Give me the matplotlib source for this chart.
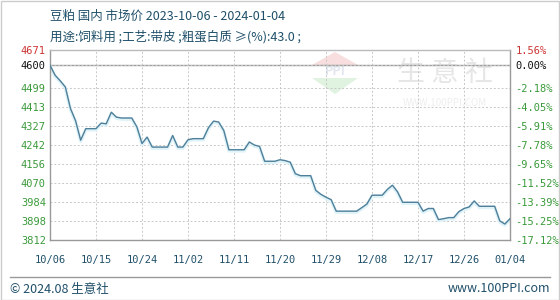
import matplotlib
matplotlib.use("Agg")
import matplotlib.pyplot as plt
from matplotlib.patches import Polygon, Rectangle
import pandas as pd

plt.rcParams['font.family'] = ['Noto Sans CJK SC', 'DejaVu Sans']

# data (daily prices, 2023-10-06 .. 2024-01-04)
start_date = "2023-10-06"
prices = [4600, 4555, 4530, 4502, 4405, 4350, 4262, 4314, 4314, 4314,
          4339, 4336, 4388, 4366, 4362, 4362, 4362, 4322, 4247, 4276,
          4231, 4231, 4231, 4231, 4283, 4231, 4231, 4264, 4269, 4269,
          4269, 4318, 4348, 4344, 4306, 4219, 4219, 4219, 4219, 4254,
          4240, 4234, 4167, 4167, 4167, 4174, 4170, 4163, 4111, 4102,
          4102, 4102, 4036, 4018, 4005, 3994, 3942, 3942, 3942, 3942,
          3942, 3958, 3974, 4014, 4014, 4014, 4040, 4059, 4029, 3982,
          3982, 3982, 3982, 3942, 3954, 3954, 3904, 3908, 3913, 3913,
          3940, 3954, 3961, 3988, 3964, 3964, 3964, 3964, 3898, 3884,
          3908]
y_ticks = [3812, 3898, 3984, 4070, 4156, 4242, 4327, 4413, 4499, 4600, 4671]
pct_labels = ["-17.12%", "-15.25%", "-13.39%", "-11.52%", "-9.65%", "-7.78%",
              "-5.91%", "-4.05%", "-2.18%", "0.00%", "1.56%"]
x_tick_labels = ["10/06", "10/15", "10/24", "11/02", "11/11", "11/20",
                 "11/29", "12/08", "12/17", "12/26", "01/04"]
title1 = "豆粕 国内 市场价 2023-10-06 - 2024-01-04"
title2 = "用途:饲料用 ;工艺:带皮 ;粗蛋白质 ≥(%):43.0 ;"

dates = pd.date_range(start_date, periods=len(prices), freq="D")
tick_dates = pd.date_range(start_date, periods=len(x_tick_labels), freq="9D")

W, H = 560, 300
fig = plt.figure(figsize=(W / 100, H / 100), dpi=100)
fig.patch.set_facecolor("white")

# outer frame
fig.add_artist(Rectangle((0.5 / W, 0.5 / H), 1 - 1.5 / W, 1 - 1.5 / H, transform=fig.transFigure,
                         fill=False, edgecolor="#cccccc", linewidth=1))

ax = fig.add_axes([50 / W, 1 - 240 / H, 460 / W, (240 - 49.5) / H])
ax.set_facecolor("white")

# watermark logo + text (pixel coords of the picture -> axes fraction)
def px(x, y):
    return ((x - 50) / 460, (240 - y) / (240 - 49.5))

ax.add_patch(Polygon([px(312, 65), px(335, 52), px(358, 65)], closed=True,
                     transform=ax.transAxes, facecolor="#f8dede", edgecolor="none", zorder=0))
ax.add_patch(Polygon([px(312, 78), px(358, 78), px(335, 94)], closed=True,
                     transform=ax.transAxes, facecolor="#e0f2e0", edgecolor="none", zorder=0))
ax.text(*px(335, 71.5), "PPI", transform=ax.transAxes, ha="center", va="center",
        fontsize=9, color="#e2e7ef", fontweight="bold", zorder=0)
ax.text(*px(445, 73), "生 意 社", transform=ax.transAxes, ha="center", va="center",
        fontsize=20, color="#e6e6e6", zorder=0)
ax.text(*px(445, 103), "WWW.100PPI.COM", transform=ax.transAxes, ha="center", va="center",
        fontsize=7, color="#eeeeee", zorder=0)

ax.set_xlim(dates[0], dates[-1])
ax.set_ylim(y_ticks[0], y_ticks[-1])

ax.grid(True, color="#c8c8c8", linestyle=(0, (2, 2)), linewidth=0.7)
ax.axhline(prices[0], color="#9a9a9a", linewidth=1, zorder=1)

# faint glow beneath line
ax.plot(dates, [p - 5 for p in prices], color="#dff3f9", linewidth=2.5, zorder=2,
        solid_joinstyle="round")
ax.plot(dates, prices, color="#4f7f99", linewidth=1, zorder=3)

ax.set_xticks(tick_dates)
ax.set_xticklabels(x_tick_labels)
ax.set_yticks(y_ticks)
ax.set_yticklabels([str(v) for v in y_ticks])
ax.tick_params(axis="both", length=0, labelsize=7.5)
ax.tick_params(axis="x", pad=11, labelcolor="#1f4f6a")
ax.tick_params(axis="y", pad=21)
for lab in ax.get_xticklabels() + ax.get_yticklabels():
    lab.set_family("DejaVu Sans Mono")
for lab in ax.get_yticklabels():
    lab.set_horizontalalignment("left")
    lab.set_color("#3a9a3a")
ax.get_yticklabels()[-1].set_color("#cc3333")
ax.get_yticklabels()[-2].set_color("#111111")
for s in ax.spines.values():
    s.set_color("#999999")
    s.set_linewidth(1)
ax.spines["top"].set_color("#bbbbbb")

ax2 = ax.twinx()
ax2.set_ylim(y_ticks[0], y_ticks[-1])
ax2.set_yticks(y_ticks)
ax2.set_yticklabels(pct_labels)
ax2.tick_params(axis="y", length=0, labelsize=7.5, pad=4)
for lab in ax2.get_yticklabels():
    lab.set_family("DejaVu Sans Mono")
    lab.set_color("#3a9a3a")
ax2.get_yticklabels()[-1].set_color("#cc3333")
ax2.get_yticklabels()[-2].set_color("#111111")
for s in ax2.spines.values():
    s.set_visible(False)

# titles
fig.text(50 / W, 1 - 16 / H, title1, fontsize=9, color="#1f4f6a", va="center", ha="left")
fig.text(50 / W, 1 - 37 / H, title2, fontsize=9, color="#1f4f6a", va="center", ha="left")

# footer
fig.add_artist(plt.Line2D([10 / W, 550 / W], [1 - 277 / H, 1 - 277 / H],
                          transform=fig.transFigure, color="#999999", linewidth=1))
fig.text(10 / W, 1 - 289 / H, "© 2024.08 生意社", fontsize=9, color="#1f4f6a",
         va="center", ha="left")
fig.text(550 / W, 1 - 289 / H, "www.100PPI.com", fontsize=9, color="#1f4f6a",
         va="center", ha="right")

fig.savefig("out.png", dpi=100)
